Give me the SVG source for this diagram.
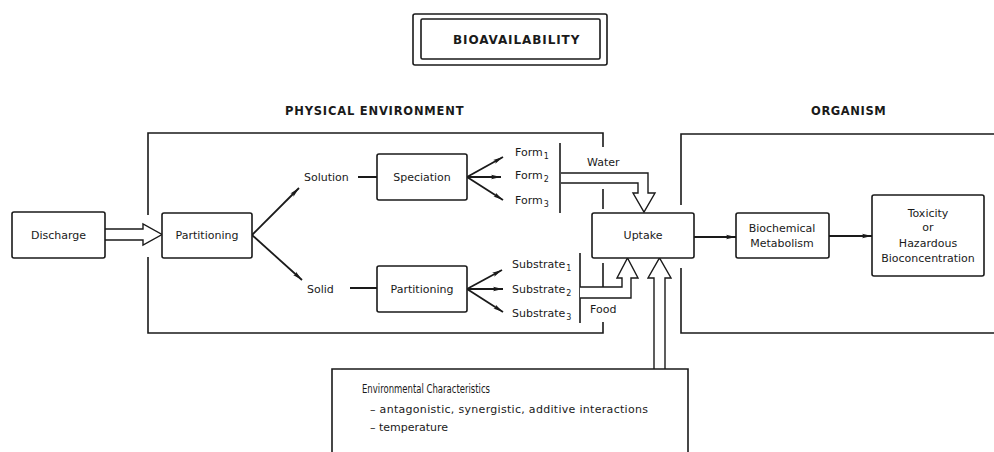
<svg xmlns="http://www.w3.org/2000/svg" width="994" height="452" viewBox="0 0 994 452">
<style>
.box{fill:#fff;stroke:#1a1a1a;stroke-width:1.6}
.ln{fill:none;stroke:#1a1a1a;stroke-width:1.6}
.hol{fill:#fff;stroke:#1a1a1a;stroke-width:1.4;stroke-linejoin:miter}
.ar{fill:none;stroke:#1a1a1a;stroke-width:1.8;marker-end:url(#ah)}
text{font-family:"DejaVu Sans","Liberation Sans",Arial,sans-serif;font-size:11px;fill:#1a1a1a}
.c{text-anchor:middle}
.hd{font-size:11.5px;font-weight:bold}
.sub{font-size:8px}
</style>
<defs>
<marker id="ah" viewBox="0 0 10 6" refX="10" refY="3" markerWidth="10" markerHeight="6" markerUnits="userSpaceOnUse" orient="auto">
<path d="M0,0.8 L10,3 L0,5.2 L2,3 Z" fill="#1a1a1a"/>
</marker>
</defs>
<rect width="994" height="452" fill="#fff"/>

<g id="title">
<rect x="413" y="14" width="194" height="51" rx="2" class="box"/>
<rect x="421" y="19" width="179" height="40" rx="1.5" class="box"/>
<text x="453" y="44" class="hd" style="font-size:12px;letter-spacing:0.9px">BIOAVAILABILITY</text>
</g>

<g id="physical-environment">
<text x="285" y="115" class="hd" style="letter-spacing:0.8px">PHYSICAL ENVIRONMENT</text>
<path class="ln" d="M148,215 V133 H603 V147 M603,189 V209 M603,263 V287 M603,322 V333 H148 V257"/>
</g>

<g id="organism">
<text x="811" y="115" class="hd" style="letter-spacing:0.6px">ORGANISM</text>
<path class="ln" d="M681,205 V134 H1000 M1000,333 H681 V268"/>
</g>

<g id="connectors">
<path class="hol" d="M105,229 H143 V224 L162,234.5 L143,245 V240 H105"/>
<line class="ar" x1="252" y1="235" x2="299" y2="188"/>
<line class="ar" x1="252" y1="235" x2="302" y2="280"/>
<line class="ln" x1="358" y1="177" x2="377" y2="177" style="stroke-width:2"/>
<line class="ln" x1="350" y1="288" x2="377" y2="288" style="stroke-width:2"/>
<line class="ar" x1="467" y1="177" x2="503" y2="157"/>
<line class="ar" x1="467" y1="177" x2="501" y2="177"/>
<line class="ar" x1="467" y1="177" x2="503" y2="200"/>
<line class="ar" x1="467" y1="289" x2="502" y2="270"/>
<line class="ar" x1="467" y1="289" x2="503" y2="289"/>
<line class="ar" x1="467" y1="289" x2="503" y2="312"/>
<line class="ln" x1="560" y1="143" x2="560" y2="213"/>
<line class="ln" x1="580" y1="253" x2="580" y2="323"/>
<path class="hol" d="M561,173 H648 V193 H655 L644,212 L633,193 H638 V183 H561"/>
<path class="hol" d="M580,287 H622 V278 H617 L627.5,258 L638,278 H631 V298 H580"/>
<path class="hol" d="M654,369 V278 H648 L659.5,258 L671,278 H665 V369"/>
<line class="ar" x1="694" y1="237" x2="736" y2="237"/>
<line class="ar" x1="829" y1="236" x2="872" y2="236"/>
</g>

<g id="discharge">
<rect x="12" y="212" width="93" height="46" rx="2" class="box"/>
<text x="58.5" y="239" class="c">Discharge</text>
</g>

<g id="partitioning">
<rect x="162" y="213" width="90" height="45" rx="2" class="box"/>
<text x="207" y="239" class="c">Partitioning</text>
</g>

<g id="solution"><text x="304" y="181">Solution</text></g>
<g id="solid"><text x="307" y="293">Solid</text></g>

<g id="speciation">
<rect x="377" y="154" width="90" height="46" rx="2" class="box"/>
<text x="422" y="181" class="c">Speciation</text>
</g>

<g id="partitioning-solid">
<rect x="377" y="266" width="90" height="46" rx="2" class="box"/>
<text x="422" y="293" class="c">Partitioning</text>
</g>

<g id="forms">
<text x="515" y="156">Form<tspan class="sub" dx="1" dy="3">1</tspan></text>
<text x="515" y="179">Form<tspan class="sub" dx="1" dy="3">2</tspan></text>
<text x="515" y="204">Form<tspan class="sub" dx="1" dy="3">3</tspan></text>
</g>

<g id="substrates">
<text x="512" y="268">Substrate<tspan class="sub" dx="1" dy="3">1</tspan></text>
<text x="512" y="293">Substrate<tspan class="sub" dx="1" dy="3">2</tspan></text>
<text x="512" y="317">Substrate<tspan class="sub" dx="1" dy="3">3</tspan></text>
</g>

<g id="water"><text x="587" y="166">Water</text></g>
<g id="food"><text x="590" y="313">Food</text></g>

<g id="uptake">
<rect x="592" y="213" width="102" height="45" rx="2" class="box"/>
<text x="643" y="239" class="c">Uptake</text>
</g>

<g id="biochemical-metabolism">
<rect x="736" y="213" width="93" height="45" rx="2" class="box"/>
<text x="782" y="232" class="c">Biochemical</text>
<text x="782" y="247" class="c">Metabolism</text>
</g>

<g id="toxicity">
<rect x="872" y="195" width="112" height="81" rx="2" class="box"/>
<text x="928" y="217" class="c">Toxicity</text>
<text x="928" y="231" class="c">or</text>
<text x="928" y="247" class="c">Hazardous</text>
<text x="928" y="262" class="c">Bioconcentration</text>
</g>

<g id="environmental-characteristics">
<path class="ln" d="M332,460 V369 H688 V460"/>
<text x="362" y="393" textLength="128" lengthAdjust="spacingAndGlyphs" style="font-size:11.5px">Environmental Characteristics</text>
<text x="370" y="413" textLength="278">– antagonistic, synergistic, additive interactions</text>
<text x="370" y="431">– temperature</text>
</g>
</svg>
